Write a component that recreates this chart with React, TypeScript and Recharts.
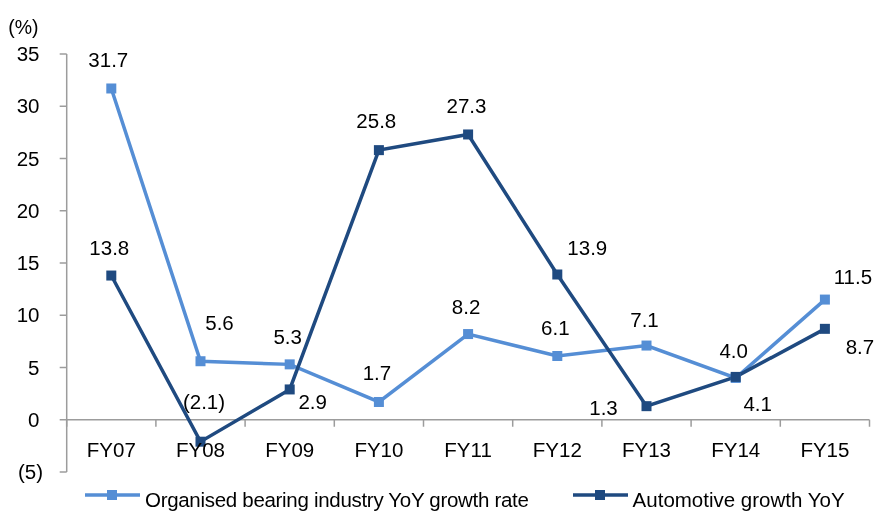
import React from "react";
import {
  LineChart,
  Line,
  XAxis,
  YAxis,
  ReferenceLine,
  LabelList,
  Legend,
  Label,
} from "recharts";

const categories = ["FY07", "FY08", "FY09", "FY10", "FY11", "FY12", "FY13", "FY14", "FY15"];
const organised = [31.7, 5.6, 5.3, 1.7, 8.2, 6.1, 7.1, 4.0, 11.5];
const automotive = [13.8, -2.1, 2.9, 25.8, 27.3, 13.9, 1.3, 4.1, 8.7];
const yTicks = [-5, 0, 5, 10, 15, 20, 25, 30, 35];
const seriesNames = ["Organised bearing industry YoY growth rate", "Automotive growth YoY"];

// label placement (pixel offsets of label centre from the point)
const orgLabelOffset: [number, number][] = [
  [-3, -29], [19, -38], [-2, -28], [-2, -29], [-2, -27], [-2, -28], [-2, -26], [-2, -27], [28, -23],
];
const autoLabelOffset: [number, number][] = [
  [-2, -28], [3.5, -40], [23, 12], [-2.6, -29], [-1.6, -28.5], [30, -27], [-43, 1.5], [22, 27], [35, 18],
];

const LIGHT = "#558ED5";
const DARK = "#1F4A80";
const AXIS = "#9C9C9C";
const FONT = "'Liberation Sans', Arial, sans-serif";
const FS = 20.5;

const data = categories.map((c, i) => ({
  name: c,
  pos: i + 0.5,
  organised: organised[i],
  automotive: automotive[i],
}));
const xTicks = categories.map((_, i) => i + 0.5);
const boundaries = Array.from({ length: categories.length + 1 }, (_, i) => i);

const fmt = (v: number) => (v < 0 ? `(${Math.abs(v).toFixed(1)})` : v.toFixed(1));
const fmtAxis = (v: number) => (v < 0 ? `(${Math.abs(v)})` : `${v}`);

const makeLabel = (offsets: [number, number][]) => (props: any) => {
  const { x, y, value, index } = props;
  if (x == null || y == null) return null;
  const o = offsets[index] || [0, -28];
  return (
    <text
      x={x + o[0]}
      y={y + o[1]}
      dy="0.35em"
      textAnchor="middle"
      fontFamily={FONT}
      fontSize={FS}
      fill="#000"
    >
      {fmt(Number(value))}
    </text>
  );
};

const makeDot = (color: string) => (props: any) => {
  const { cx, cy, index } = props;
  if (cx == null || cy == null) return <g key={`d${index}`} />;
  return <rect key={`d${index}`} x={cx - 5} y={cy - 5} width={10} height={10} fill={color} />;
};

const XTick = (props: any) => {
  const { x, y, payload } = props;
  const i = Math.round(payload.value - 0.5);
  return (
    <text x={x} y={y - 22.6} dy="0.35em" textAnchor="middle" fontFamily={FONT} fontSize={FS} fill="#000">
      {categories[i]}
    </text>
  );
};

const YTick = (props: any) => {
  const { x, y, payload } = props;
  const v = payload.value;
  return (
    <text
      x={x + (v < 0 ? 3.5 : 0)}
      y={y}
      dy="0.35em"
      textAnchor="end"
      fontFamily={FONT}
      fontSize={FS}
      fill="#000"
    >
      {fmtAxis(v)}
    </text>
  );
};

const LegendContent = () => {
  const item = (color: string, text: string, ml: number, ls: number) => (
    <div style={{ display: "flex", alignItems: "center", marginLeft: ml }}>
      <svg width={55} height={20} style={{ display: "block" }}>
        <line x1={0} x2={55} y1={5} y2={5} stroke={color} strokeWidth={3.5} />
        <rect x={22} y={0} width={10} height={10} fill={color} />
      </svg>
      <span style={{ marginLeft: 5, whiteSpace: "nowrap", letterSpacing: ls }}>{text}</span>
    </div>
  );
  return (
    <div style={{ position: "relative", height: 30, fontFamily: FONT, fontSize: FS, color: "#000" }}>
      <div style={{ position: "absolute", left: 77, top: 0, height: 38, display: "flex", alignItems: "center" }}>
        {item(LIGHT, seriesNames[0], 0, -0.3)}
        {item(DARK, seriesNames[1], 44, 0)}
      </div>
    </div>
  );
};

export default function App() {
  return (
    <div style={{ position: "fixed", left: 8, top: 8 }}>
      <LineChart
        width={868}
        height={503}
        data={data}
        margin={{ top: 46, right: 6.5, left: 0, bottom: 0 }}
        style={{ fontFamily: FONT }}
      >
        <XAxis
          type="number"
          dataKey="pos"
          domain={[0, categories.length]}
          ticks={xTicks}
          interval={0}
          height={9}
          axisLine={false}
          tickLine={false}
          tickSize={0}
          tickMargin={0}
          tick={<XTick />}
        />
        <YAxis
          type="number"
          domain={[-5, 35]}
          ticks={yTicks}
          interval={0}
          width={58.7}
          axisLine={{ stroke: AXIS, strokeWidth: 1.5 }}
          tickLine={{ stroke: AXIS, strokeWidth: 1.5 }}
          tickSize={7}
          tickMargin={20.2}
          tick={<YTick />}
        >
          <Label
            content={(p: any) => {
              const vb = p.viewBox || { x: 0, y: 46 };
              return (
                <text x={vb.x + 30.5} y={vb.y - 27.3} dy="0.35em" textAnchor="end" fontFamily={FONT} fontSize={19.5} fill="#000">
                  (%)
                </text>
              );
            }}
          />
        </YAxis>
        <ReferenceLine y={0} stroke={AXIS} strokeWidth={1.5} />
        {boundaries.map((b) => (
          <ReferenceLine
            key={`b${b}`}
            segment={[
              { x: b, y: 0 },
              { x: b, y: -0.67 },
            ]}
            stroke={AXIS}
            strokeWidth={1.5}
          />
        ))}
        <Legend verticalAlign="bottom" align="left" height={30} content={<LegendContent />} />
        <Line
          dataKey="organised"
          name={seriesNames[0]}
          stroke={LIGHT}
          strokeWidth={3.5}
          dot={makeDot(LIGHT)}
          activeDot={false}
          isAnimationActive={false}
        >
          <LabelList dataKey="organised" content={makeLabel(orgLabelOffset)} />
        </Line>
        <Line
          dataKey="automotive"
          name={seriesNames[1]}
          stroke={DARK}
          strokeWidth={3.5}
          dot={makeDot(DARK)}
          activeDot={false}
          isAnimationActive={false}
        >
          <LabelList dataKey="automotive" content={makeLabel(autoLabelOffset)} />
        </Line>
      </LineChart>
    </div>
  );
}
